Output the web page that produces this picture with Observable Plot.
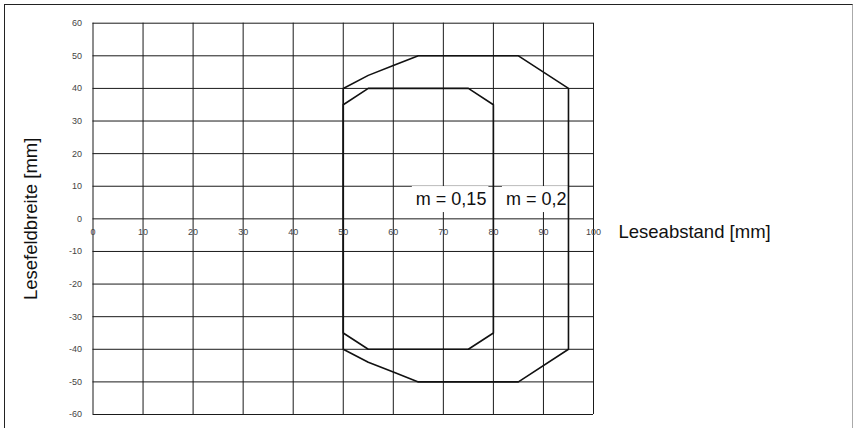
<!DOCTYPE html>
<html>
<head>
<meta charset="utf-8">
<script src="https://cdn.jsdelivr.net/npm/d3@7"></script>
<script src="https://cdn.jsdelivr.net/npm/@observablehq/plot@0.6"></script>
<style>
  html, body { margin: 0; padding: 0; background: #fff; }
  #wrap { position: relative; width: 855px; height: 428px; overflow: hidden; }
  #frame { position: absolute; left: 4px; top: 4px; width: 849px; height: 430px; border: 1px solid #222; box-sizing: border-box; border-right-color: #aaa; }
  #chart { position: absolute; left: 0; top: 0; }
</style>
</head>
<body>
<div id="wrap"><div id="frame"></div><div id="chart"></div></div>
<script>
// Tick values
const xTicks = [0, 10, 20, 30, 40, 50, 60, 70, 80, 90, 100];
const yTicks = [-60, -50, -40, -30, -20, -10, 0, 10, 20, 30, 40, 50, 60];

// Reading field m = 0,15 (inner contour)
const innerX = [50, 50, 55, 75, 80, 80, 75, 55, 50];
const innerY = [-35, 35, 40, 40, 35, -35, -40, -40, -35];

// Reading field m = 0,2 (outer contour)
const outerX = [50, 50, 55, 60, 65, 85, 95, 95, 85, 65, 60, 55, 50];
const outerY = [-40, 40, 44, 47, 50, 50, 40, -40, -50, -50, -47, -44, -40];

// Labels
const labelTexts = ["m = 0,15", "m = 0,2"];
const labelX = [78.6, 94.6];
const labelY = [6, 6];
const xTitle = "Leseabstand [mm]";
const yTitle = "Lesefeldbreite [mm]";

const inner = innerX.map((x, i) => ({x, y: innerY[i]}));
const outer = outerX.map((x, i) => ({x, y: outerY[i]}));
const labels = labelTexts.map((t, i) => ({t, x: labelX[i], y: labelY[i]}));

const font = "'Liberation Sans', Arial, Helvetica, sans-serif";

const chart = Plot.plot({
  width: 855,
  height: 428,
  marginLeft: 92.5,
  marginRight: 262,
  marginTop: 22.7,
  marginBottom: 14,
  style: {fontFamily: font, background: "transparent"},
  x: {domain: [0, 100], axis: null},
  y: {domain: [-60, 60], axis: null},
  marks: [
    Plot.gridX(xTicks, {stroke: "#1a1a1a", strokeOpacity: 1, strokeWidth: 1}),
    Plot.gridY(yTicks, {stroke: "#1a1a1a", strokeOpacity: 1, strokeWidth: 1}),
    // contour labels (white boxes added below the text, under the contour lines)
    Plot.text(labels, {x: "x", y: "y", text: "t", textAnchor: "end", fontSize: 18, fill: "#111"}),
    Plot.line(inner, {x: "x", y: "y", stroke: "#111", strokeWidth: 1.6}),
    Plot.line(outer, {x: "x", y: "y", stroke: "#111", strokeWidth: 1.6}),
    // x tick labels sitting on the zero line
    Plot.text(xTicks, {x: d => d, y: 0, text: d => String(d), dy: 13, fontSize: 9, fill: "#444", textAnchor: "middle"}),
    // y tick labels
    Plot.text(yTicks, {x: 0, y: d => d, text: d => String(d), dx: -11, fontSize: 9, fill: "#444", textAnchor: "end"}),
    // axis titles
    Plot.text([xTitle], {x: 100, y: 0, text: d => d, dx: 25, dy: 13, textAnchor: "start", fontSize: 18.5, fill: "#111"}),
    Plot.text([yTitle], {frameAnchor: "left", text: d => d, rotate: -90, dx: -62, textAnchor: "middle", fontSize: 18.5, fill: "#111"})
  ]
});

document.getElementById("chart").appendChild(chart);

// white backgrounds behind the contour labels
d3.select(chart).selectAll("text").each(function() {
  const t = this.textContent;
  if (labelTexts.includes(t)) {
    const bb = this.getBBox();
    const rect = document.createElementNS("http://www.w3.org/2000/svg", "rect");
    rect.setAttribute("x", bb.x - 4);
    rect.setAttribute("y", bb.y - 3);
    rect.setAttribute("width", bb.width + 6);
    rect.setAttribute("height", bb.height + 6);
    rect.setAttribute("fill", "white");
    if (this.getAttribute("transform")) rect.setAttribute("transform", this.getAttribute("transform"));
    this.parentNode.insertBefore(rect, this);
  }
});
</script>
</body>
</html>
